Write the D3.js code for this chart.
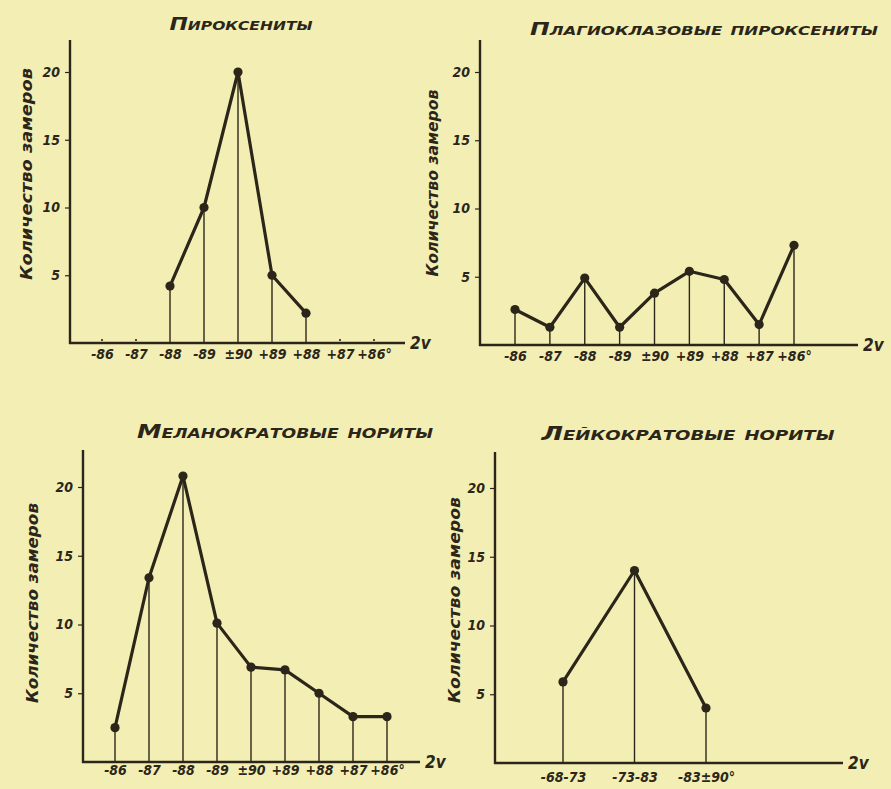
<!DOCTYPE html>
<html>
<head>
<meta charset="utf-8">
<script src="https://cdn.jsdelivr.net/npm/d3@7"></script>
<style>
  html, body { margin: 0; padding: 0; background: #f3efb4; overflow: hidden; }
  svg { display: block; }
</style>
</head>
<body>
<div id="chart"></div>
<script>
// categories (2V angle classes) and counts
const angleCats = ["-86", "-87", "-88", "-89", "±90", "+89", "+88", "+87", "+86°"];
const leucoCats = ["-68-73", "-73-83", "-83±90°"];

const pyroxVals  = [0, 0, 4.2, 10, 20, 5, 2.2, 0, 0];
const plagVals   = [2.6, 1.3, 4.9, 1.3, 3.8, 5.4, 4.8, 1.5, 7.3];
const melanoVals = [2.5, 13.4, 20.8, 10.1, 6.9, 6.7, 5.0, 3.3, 3.3];
const leucoVals  = [5.9, 14.0, 4.0];

const yTicks = [5, 10, 15, 20];
const yLabel = "Количество замеров";

const W = 891, H = 789;
const ink = "#2b2619";
const font = "'DejaVu Sans Condensed', 'Liberation Sans Narrow', 'DejaVu Sans', sans-serif";

const svg = d3.select("#chart").append("svg")
  .attr("width", W).attr("height", H)
  .attr("viewBox", `0 0 ${W} ${H}`);

svg.append("rect").attr("width", W).attr("height", H).attr("fill", "#f3efb4");

// panel layout: axis origin, category range, y scale range
const panels = [
  { title: "Пироксениты", cats: angleCats, vals: pyroxVals,
    ax: 70, top: 40, base: 343, xr: [102, 374], y20: 72, xEnd: 405,
    titleX: 241, titleY: 30, titleW: 143, titleS: 17,
    labX: 27, labY: 174, labW: 212, xLabY: 364 },
  { title: "Плагиоклазовые пироксениты", cats: angleCats, vals: plagVals,
    ax: 480, top: 40, base: 345, xr: [515, 794], y20: 72, xEnd: 858,
    titleX: 704, titleY: 35, titleW: 348, titleS: 17,
    labX: 433, labY: 183, labW: 187, xLabY: 366 },
  { title: "Меланократовые нориты", cats: angleCats, vals: melanoVals,
    ax: 83, top: 450, base: 762, xr: [115, 387], y20: 487, xEnd: 420,
    titleX: 285, titleY: 438, titleW: 296, titleS: 20,
    labX: 33, labY: 603, labW: 200, xLabY: 780 },
  { title: "Лейкократовые нориты", cats: leucoCats, vals: leucoVals,
    ax: 495, top: 452, base: 763, xr: [563, 706], y20: 488, xEnd: 843,
    titleX: 688, titleY: 440, titleW: 293, titleS: 20,
    labX: 455, labY: 600, labW: 206, xLabY: 787 }
];

panels.forEach(p => {
  const g = svg.append("g").attr("font-family", font)
    .attr("font-style", "italic").attr("font-weight", "bold").attr("fill", ink);

  const x = d3.scalePoint().domain(p.cats).range(p.xr);
  const y = d3.scaleLinear().domain([0, 20]).range([p.base, p.y20]);

  // title
  g.append("text")
    .attr("x", p.titleX).attr("y", p.titleY)
    .attr("text-anchor", "middle")
    .attr("font-size", p.titleS)
    .style("font-variant", "small-caps")
    .attr("textLength", p.titleW).attr("lengthAdjust", "spacingAndGlyphs")
    .text(p.title);

  // y axis label
  g.append("text")
    .attr("transform", `translate(${p.labX},${p.labY}) rotate(-90)`)
    .attr("text-anchor", "middle").attr("dominant-baseline", "middle")
    .attr("font-size", 16)
    .attr("textLength", p.labW).attr("lengthAdjust", "spacingAndGlyphs")
    .text(yLabel);

  // y axis
  const yAxis = d3.axisLeft(y).tickValues(yTicks).tickSize(5).tickPadding(5);
  const ya = g.append("g").attr("transform", `translate(${p.ax},0)`).call(yAxis);
  ya.select(".domain").remove();
  ya.selectAll("line").attr("stroke", ink).attr("stroke-width", 1.2);
  ya.selectAll("text").attr("fill", ink).attr("font-family", font)
    .attr("font-style", "italic").attr("font-weight", "bold").attr("font-size", 14);

  g.append("line")
    .attr("x1", p.ax).attr("x2", p.ax).attr("y1", p.top).attr("y2", p.base + 1)
    .attr("stroke", ink).attr("stroke-width", 2.4);

  // x axis
  g.append("line")
    .attr("x1", p.ax - 1).attr("x2", p.xEnd).attr("y1", p.base).attr("y2", p.base)
    .attr("stroke", ink).attr("stroke-width", 2.6);
  g.append("text")
    .attr("x", p.xEnd + 5).attr("y", p.base + 6)
    .attr("font-size", 17).text("2v");

  const xAxis = d3.axisBottom(x).tickSize(0).tickPadding(0);
  const xa = g.append("g").attr("transform", `translate(0,${p.xLabY - 10})`).call(xAxis);
  xa.select(".domain").remove();
  xa.selectAll("text").attr("fill", ink).attr("font-family", font)
    .attr("font-style", "italic").attr("font-weight", "bold").attr("font-size", 14)
    .attr("dy", "0.35em");

  const data = p.cats.map((c, i) => ({ c, v: p.vals[i] }));
  const pts = data.filter(d => d.v > 0);

  // drop lines
  g.selectAll(".drop").data(pts).enter().append("line")
    .attr("x1", d => x(d.c)).attr("x2", d => x(d.c))
    .attr("y1", d => y(d.v)).attr("y2", p.base)
    .attr("stroke", ink).attr("stroke-width", 1.4);

  // zero marks on the axis
  g.selectAll(".zero").data(data.filter(d => d.v === 0)).enter().append("circle")
    .attr("cx", d => x(d.c)).attr("cy", p.base - 3).attr("r", 1.1)
    .attr("fill", ink);

  // polyline
  g.append("path").datum(pts)
    .attr("d", d3.line().x(d => x(d.c)).y(d => y(d.v)))
    .attr("fill", "none").attr("stroke", ink)
    .attr("stroke-width", 3.2).attr("stroke-linejoin", "round");

  g.selectAll(".pt").data(pts).enter().append("circle")
    .attr("cx", d => x(d.c)).attr("cy", d => y(d.v)).attr("r", 4.6)
    .attr("fill", ink);
});
</script>
</body>
</html>
